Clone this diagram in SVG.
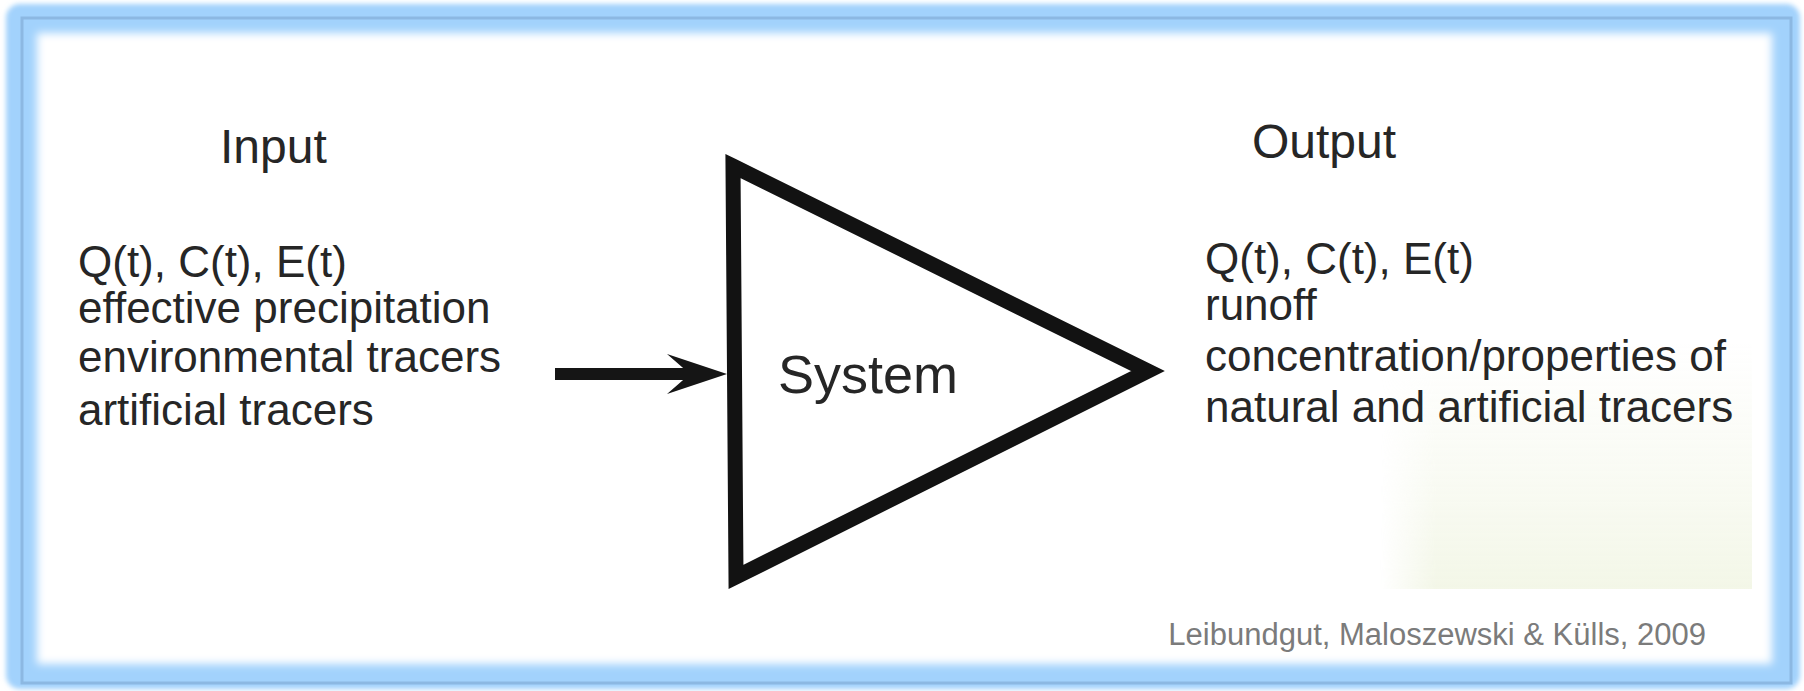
<svg xmlns="http://www.w3.org/2000/svg" width="1804" height="691" viewBox="0 0 1804 691">
  <defs>
    <filter id="soft" x="-5%" y="-5%" width="110%" height="110%">
      <feGaussianBlur stdDeviation="2.5"/>
    </filter>
    <filter id="softer" x="-5%" y="-5%" width="110%" height="110%">
      <feGaussianBlur stdDeviation="4"/>
    </filter>
    <linearGradient id="tint" x1="0" y1="0" x2="0" y2="1">
      <stop offset="0" stop-color="#f4f7ea" stop-opacity="0"/>
      <stop offset="1" stop-color="#f1f5e3" stop-opacity="0.85"/>
    </linearGradient>
    <linearGradient id="fadeH" x1="0" y1="0" x2="1" y2="0">
      <stop offset="0" stop-color="#fff" stop-opacity="0"/>
      <stop offset="0.15" stop-color="#fff" stop-opacity="1"/>
      <stop offset="1" stop-color="#fff" stop-opacity="1"/>
    </linearGradient>
    <mask id="tintMask" maskUnits="userSpaceOnUse" x="1380" y="340" width="380" height="260">
      <rect x="1380" y="340" width="372" height="249" fill="url(#fadeH)"/>
    </mask>
    <marker id="arrowhead" markerUnits="userSpaceOnUse" markerWidth="64" markerHeight="44" viewBox="0 0 64 44" refX="39" refY="21" orient="auto">
      <path d="M61,21 L1,1 L24,21 L1,41 Z" fill="#151515"/>
    </marker>
    <style>
      .txt { font-family: "Liberation Sans", Arial, sans-serif; fill: #262626; }
      .title { font-size: 48px; }
      .body { font-size: 44px; }
      .sys { font-size: 54px; }
      .cite { font-family: "Liberation Sans", Arial, sans-serif; font-size: 31px; fill: #7b7b7b; }
      .shape { fill: #ffffff; stroke: #121212; stroke-width: 15; stroke-linejoin: miter; }
      .conn { stroke: #151515; stroke-width: 12; fill: none; }
    </style>
  </defs>

  <g id="frame">
    <rect x="0" y="0" width="1804" height="691" fill="#ffffff"/>
    <rect x="6" y="4" width="1794" height="685" rx="14" fill="#a2d2fc" filter="url(#soft)"/>
    <rect x="22" y="18" width="1769" height="665" fill="none" stroke="#8cb8e2" stroke-width="3"/>
    <rect x="37" y="33" width="1735" height="631" fill="#ffffff" filter="url(#softer)"/>
    <rect x="1380" y="340" width="372" height="249" fill="url(#tint)" mask="url(#tintMask)"/>
  </g>

  <g id="input">
    <text class="txt title" x="220" y="163">Input</text>
    <text class="txt body" x="78" y="277">Q(t), C(t), E(t)</text>
    <text class="txt body" x="78" y="323">effective precipitation</text>
    <text class="txt body" x="78" y="372">environmental tracers</text>
    <text class="txt body" x="78" y="425">artificial tracers</text>
  </g>

  <g id="system">
    <polygon class="shape" points="733,166 1148,371 736,577"/>
    <text class="txt sys" x="778" y="393">System</text>
  </g>

  <g id="output">
    <text class="txt title" x="1252" y="158">Output</text>
    <text class="txt body" x="1205" y="274">Q(t), C(t), E(t)</text>
    <text class="txt body" x="1205" y="320">runoff</text>
    <text class="txt body" x="1205" y="371">concentration/properties of</text>
    <text class="txt body" x="1205" y="422">natural and artificial tracers</text>
  </g>

  <g id="connectors">
    <line class="conn" x1="555" y1="374" x2="705" y2="374" marker-end="url(#arrowhead)"/>
  </g>

  <g id="citation">
    <text class="cite" x="1706" y="645" text-anchor="end">Leibundgut, Maloszewski &amp; Külls, 2009</text>
  </g>
</svg>
